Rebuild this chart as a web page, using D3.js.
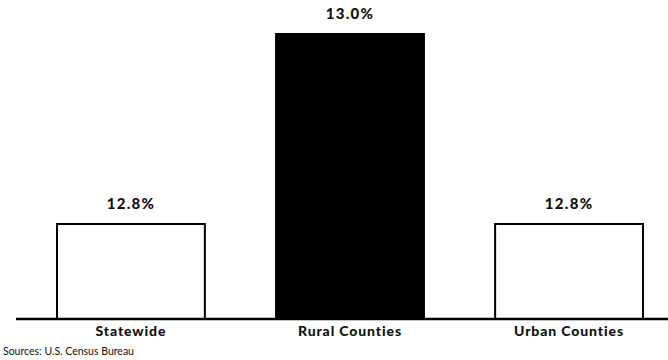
<!DOCTYPE html>
<html>
<head>
<meta charset="utf-8">
<script src="https://cdn.jsdelivr.net/npm/d3@7"></script>
<style>
  html, body { margin: 0; padding: 0; background: #fff; }
  svg { display: block; }
  .lbl { font-family: Lato, "Open Sans", sans-serif; font-weight: 900; fill: #111; }
  .src { font-family: Lato, "Open Sans", sans-serif; font-size: 10.5px; fill: #111; }
</style>
</head>
<body>
<svg id="chart" width="668" height="360"></svg>
<script>
// Share of population, by area
const categories = ["Statewide", "Rural Counties", "Urban Counties"];
const values = [12.8, 13.0, 12.8];
const valueLabels = ["12.8%", "13.0%", "12.8%"];
const fills = ["#ffffff", "#000000", "#ffffff"];
const sourceNote = "Sources: U.S. Census Bureau";

const svg = d3.select("#chart");
const baseY = 319;

const x = d3.scaleBand()
  .domain(categories)
  .range([57, 643])
  .paddingInner(0.325)
  .paddingOuter(0);

// Value axis starts above zero, as in the published graphic
const y = d3.scaleLinear()
  .domain([12.7, 13.0])
  .range([baseY, 34]);

const data = categories.map((c, i) => ({ c, v: values[i], label: valueLabels[i], fill: fills[i] }));

svg.selectAll("rect.bar")
  .data(data)
  .join("rect")
  .attr("class", "bar")
  .attr("x", d => x(d.c))
  .attr("y", d => y(d.v))
  .attr("width", x.bandwidth())
  .attr("height", d => baseY - y(d.v))
  .attr("fill", d => d.fill)
  .attr("stroke", "#000")
  .attr("stroke-width", 2);

// Baseline
svg.append("line")
  .attr("x1", 16).attr("x2", 668)
  .attr("y1", baseY).attr("y2", baseY)
  .attr("stroke", "#000")
  .attr("stroke-width", 2.5);

// Value labels above bars
svg.selectAll("text.val")
  .data(data)
  .join("text")
  .attr("class", "lbl val")
  .attr("x", d => x(d.c) + x.bandwidth() / 2)
  .attr("y", d => y(d.v) - 15)
  .attr("text-anchor", "middle")
  .attr("font-size", 15)
  .attr("letter-spacing", 1.3)
  .text(d => d.label);

// Category axis labels
const xAxis = d3.axisBottom(x).tickSize(0).tickPadding(0);
const gx = svg.append("g").attr("transform", `translate(0,${baseY})`).call(xAxis);
gx.select(".domain").remove();
gx.selectAll("text")
  .attr("class", "lbl")
  .attr("y", 17)
  .attr("dy", 0)
  .attr("font-size", 14)
  .attr("letter-spacing", 0.9);

svg.append("text")
  .attr("class", "src")
  .attr("x", 3)
  .attr("y", 355)
  .text(sourceNote);
</script>
</body>
</html>
